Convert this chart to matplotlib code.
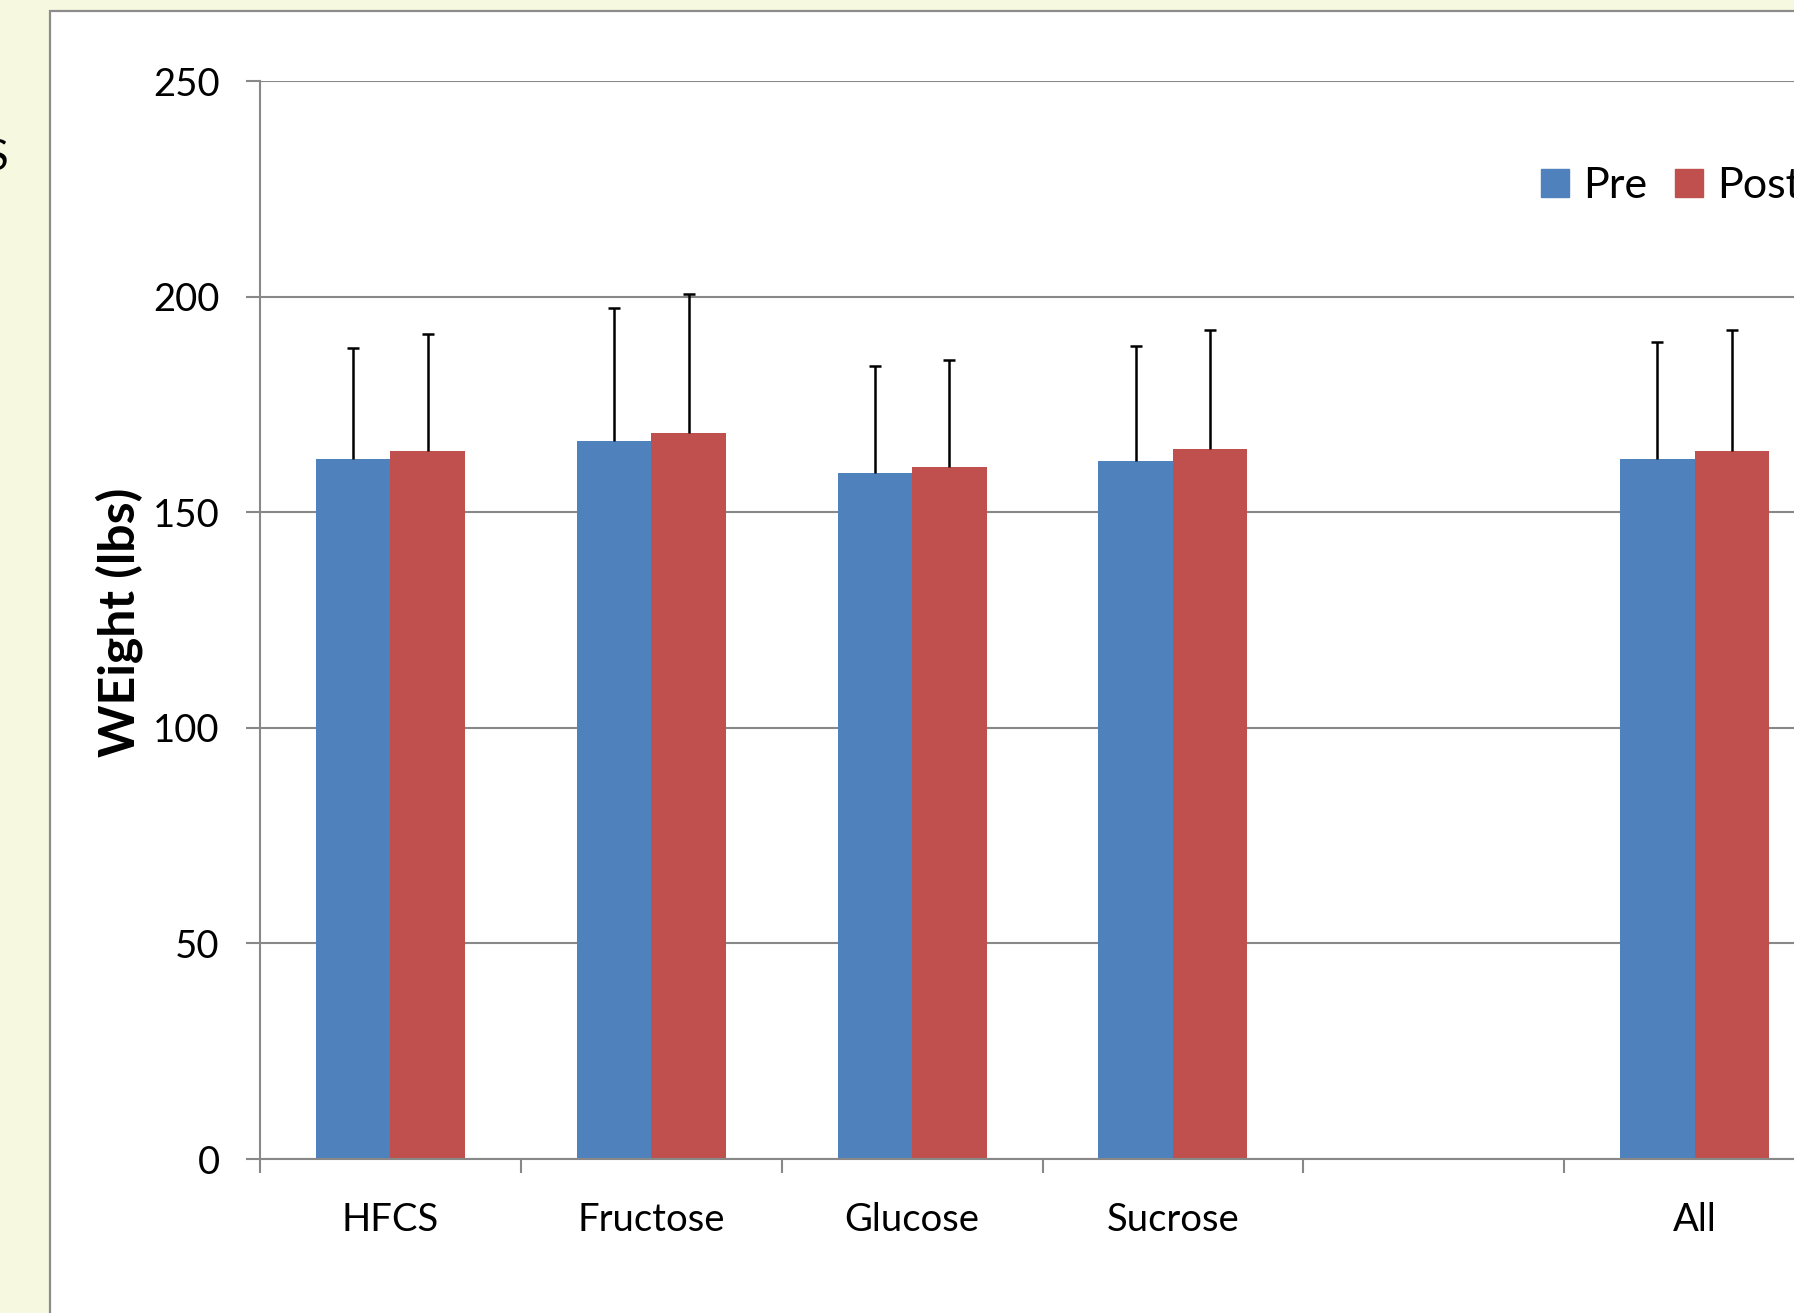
import matplotlib
matplotlib.use("Agg")
import matplotlib.pyplot as plt
import numpy as np
from matplotlib.patches import Rectangle

categories = ["HFCS", "Fructose", "Glucose", "Sucrose", "", "All"]
pre = [162.3, 166.5, 159.0, 161.8, np.nan, 162.3]
post = [164.1, 168.3, 160.5, 164.6, np.nan, 164.1]
pre_err = [25.7, 30.8, 24.8, 26.8, np.nan, 27.1]
post_err = [27.2, 32.2, 24.7, 27.6, np.nan, 28.1]
yticks = [0, 50, 100, 150, 200, 250]

plt.rcParams['font.family'] = ['Lato', 'DejaVu Sans']

W, H = 1794, 1313
fig = plt.figure(figsize=(W / 100, H / 100), dpi=100)
fig.patch.set_facecolor('#F6F8E0')

# white chart area with gray border
bg = Rectangle((50 / W, -0.05), 1.2, (H - 11) / H + 0.05,
               transform=fig.transFigure, facecolor='white',
               edgecolor='#8C8C8C', linewidth=1.6, zorder=-10)
fig.patches.append(bg)

ax = fig.add_axes([260 / W, (H - 1159) / H, 1565 / W, (1159 - 81) / H])
ax.set_facecolor('none')
ax.set_zorder(2)

x = np.arange(len(categories)) + 0.5
bw = 0.2857
gray = '#888888'

zeros = [0] * len(categories)
ekw = dict(ecolor='black', elinewidth=1.8, capsize=4.5, capthick=1.8, zorder=4)
b1 = ax.bar(x - bw / 2, pre, bw, color='#4F81BD', zorder=3, yerr=[zeros, pre_err], error_kw=ekw)
b2 = ax.bar(x + bw / 2, post, bw, color='#C0504D', zorder=3, yerr=[zeros, post_err], error_kw=ekw)
# plus-only error bars: hide the lower caps
for b in (b1, b2):
    caps = b.errorbar.lines[1]
    if len(caps) >= 2:
        caps[0].set_visible(False)

ax.set_xlim(0, len(categories))
ax.set_ylim(0, 250)
ax.set_yticks(yticks)
ax.set_yticklabels([str(v) for v in yticks])
ax.set_xticks(x)
ax.set_xticklabels(categories)
ax.set_xticks(np.arange(len(categories) + 1), minor=True)
ax.tick_params(axis='x', which='major', length=0, pad=31, labelsize=27.5)
ax.tick_params(axis='x', which='minor', length=10, width=1.5, color=gray, direction='out')
ax.tick_params(axis='y', which='major', length=10, width=1.5, color=gray, pad=19, labelsize=27.5)

ax.yaxis.grid(True, color=gray, linewidth=1.5, zorder=0)
ax.set_axisbelow(True)
for s in ['top', 'right']:
    ax.spines[s].set_visible(False)
for s in ['left', 'bottom']:
    ax.spines[s].set_color(gray)
    ax.spines[s].set_linewidth(1.5)
ax.spines['bottom'].set_zorder(5)

fig.text(119 / W, 1 - 622 / H, 'WEight (lbs)', rotation=90, ha='center', va='center',
         fontsize=36, fontweight='bold')

handles = [Rectangle((0, 0), 1, 1, color='#4F81BD'), Rectangle((0, 0), 1, 1, color='#C0504D')]
fig.legend(handles, ['Pre', 'Post'], loc='center left', bbox_to_anchor=(1541 / W, 1 - 186 / H),
           ncol=2, frameon=False, fontsize=31, handlelength=0.65, handleheight=0.65,
           handletextpad=0.33, columnspacing=0.65, borderpad=0, borderaxespad=0)

fig.text(8 / W, 1 - 158 / H, 'S', ha='right', va='center', fontsize=30)

fig.savefig('out.png', dpi=100, facecolor=fig.get_facecolor())
